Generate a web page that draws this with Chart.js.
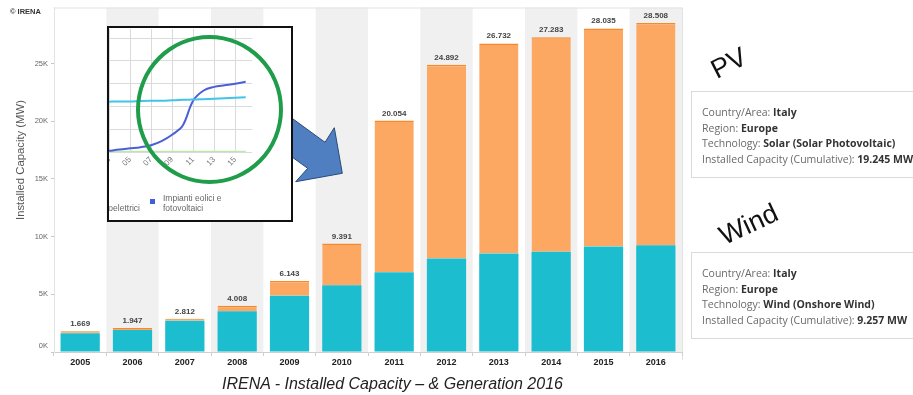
<!DOCTYPE html>
<html>
<head>
<meta charset="utf-8">
<script src="https://cdn.jsdelivr.net/npm/chart.js@4.4.1/dist/chart.umd.min.js"></script>
<style>
  body { margin: 0; background: #fff; }
  #stage { position: relative; width: 913px; height: 395px; overflow: hidden; font-family: Arial, "Liberation Sans", sans-serif; }
  #grafico { position: absolute; left: 0; top: 0; }
  .copy { position: absolute; left: 10px; top: 7px; font-size: 7.5px; font-weight: bold; color: #333; }
  .titolo-y { position: absolute; left: -50px; top: 153px; width: 140px; text-align: center; font-size: 11.3px; line-height: 14px; color: #555; transform: rotate(-90deg); }
  .didascalia { position: absolute; left: 222px; top: 375px; font-size: 16px; font-style: italic; color: #222; white-space: nowrap; }
  #freccia { position: absolute; left: 0; top: 0; }
  #inserto { position: absolute; left: 107px; top: 26px; width: 186px; height: 196px; box-sizing: border-box; border: 2px solid #111; background: #fff; overflow: hidden; }
  #grafico-inserto { position: absolute; left: -20px; top: 0; }
  .leg-quad { position: absolute; left: 41px; top: 171px; width: 5px; height: 5px; background: #3f5fdc; }
  .leg-testo { position: absolute; font-size: 8.5px; line-height: 10px; color: #666; white-space: nowrap; }
  .cerchio { position: absolute; left: 136px; top: 35px; width: 147px; height: 149px; box-sizing: border-box; border: 4px solid #1f9d4b; border-radius: 50%; }
  .nota { position: absolute; font-size: 27px; line-height: 27px; color: #111; white-space: nowrap; }
  .scheda { position: absolute; left: 691px; width: 240px; height: 87px; box-sizing: border-box; border: 1px solid #dadada; padding: 13px 0 0 10px; font-family: "Open Sans", "Noto Sans", sans-serif; font-size: 10.5px; line-height: 15.6px; color: #6a6a6a; white-space: nowrap; }
  .scheda b { color: #333; }
</style>
</head>
<body>
<div id="stage">
  <canvas id="grafico" width="913" height="395"></canvas>
  <div class="copy">© IRENA</div>
  <div class="titolo-y">Installed Capacity (MW)</div>
  <div class="didascalia">IRENA - Installed Capacity – &amp; Generation 2016</div>

  <svg id="freccia" width="913" height="395">
    <polygon points="290,116.8 325,142.3 334.3,127.7 342.3,173.3 295.7,181.7 307.7,168.3 290,155.6"
             fill="#4f7fc0" stroke="#284a7a" stroke-width="1" />
  </svg>

  <div id="inserto">
    <canvas id="grafico-inserto" width="202" height="144"></canvas>
    <div class="leg-testo" style="right:151px; top:175px;">idroelettrici</div>
    <div class="leg-quad"></div>
    <div class="leg-testo" style="left:54px; top:165px;">Impianti eolici e<br>fotovoltaici</div>
  </div>
  <div class="cerchio"></div>

  <div class="nota" style="left:711px; top:50px; transform: rotate(-27deg);">PV</div>
  <div class="nota" style="left:718px; top:211px; transform: rotate(-25deg);">Wind</div>

  <div class="scheda" style="top:91px;">
    Country/Area: <b>Italy</b><br>
    Region: <b>Europe</b><br>
    Technology: <b>Solar (Solar Photovoltaic)</b><br>
    Installed Capacity (Cumulative): <b>19.245 MW</b>
  </div>
  <div class="scheda" style="top:252px;">
    Country/Area: <b>Italy</b><br>
    Region: <b>Europe</b><br>
    Technology: <b>Wind (Onshore Wind)</b><br>
    Installed Capacity (Cumulative): <b>9.257 MW</b>
  </div>
</div>

<script>
// Potenza installata cumulativa in Italia (MW)
const anni = ['2005', '2006', '2007', '2008', '2009', '2010', '2011', '2012', '2013', '2014', '2015', '2016'];
const eolico = [1635, 1902, 2702, 3525, 4879, 5794, 6918, 8102, 8542, 8683, 9137, 9257];
const fotovoltaico = [34, 45, 110, 483, 1264, 3597, 13136, 16790, 18190, 18600, 18898, 19251];
const tickAsseY = [0, 5000, 10000, 15000, 20000, 25000];

// Grafico piccolo nel riquadro (produzione)
const anniInserto = [2003, 2004, 2005, 2006, 2007, 2008, 2009, 2010, 2011, 2012, 2013, 2014, 2015, 2016];
const eolicoFotovoltaicoInserto = [0.5, 1.1, 1.6, 2.1, 3.0, 4.8, 7.6, 11.5, 22.5, 27.0, 28.6, 29.3, 30.0, 30.8];
const idroelettricoInserto = [22.1, 22.2, 22.2, 22.4, 22.5, 22.5, 22.7, 22.9, 23.0, 23.2, 23.4, 23.6, 23.8, 24.0];
const geotermicoInserto = [0.2, 0.2, 0.2, 0.2, 0.2, 0.2, 0.2, 0.2, 0.2, 0.2, 0.2, 0.2, 0.2, 0.2];
const tickInsertoX = [2003, 2005, 2007, 2009, 2011, 2013, 2015];
const tickInsertoY = [0, 10, 20, 30, 40, 50];

const FONT = 'Arial, "Liberation Sans", sans-serif';

// bande grigie alterne e cornice dell'area del grafico
const bandePlugin = {
  id: 'bande',
  beforeDraw(chart) {
    const { ctx, chartArea, scales: { x } } = chart;
    const w = chartArea.width / anni.length;
    ctx.save();
    ctx.fillStyle = '#f0f0f0';
    anni.forEach((a, i) => {
      if (i % 2 === 1) ctx.fillRect(x.getPixelForValue(i) - w / 2, chartArea.top, w, chartArea.height);
    });
    ctx.strokeStyle = '#e2e2e2';
    ctx.lineWidth = 1;
    ctx.beginPath();
    ctx.moveTo(chartArea.left, chartArea.top + 0.5);
    ctx.lineTo(chartArea.right, chartArea.top + 0.5);
    ctx.moveTo(chartArea.right + 0.5, chartArea.top);
    ctx.lineTo(chartArea.right + 0.5, chartArea.bottom + 8);
    ctx.stroke();
    ctx.restore();
  }
};

// totali sopra le colonne
const etichettePlugin = {
  id: 'etichette',
  afterDatasetsDraw(chart) {
    const { ctx } = chart;
    const meta = chart.getDatasetMeta(1);
    ctx.save();
    ctx.font = 'bold 8px ' + FONT;
    ctx.fillStyle = '#444';
    ctx.textAlign = 'center';
    ctx.textBaseline = 'alphabetic';
    meta.data.forEach((bar, i) => {
      const totale = eolico[i] + fotovoltaico[i];
      ctx.fillText((totale / 1000).toFixed(3), bar.x, bar.y - 5);
    });
    // etichetta dello zero un po' sollevata
    const y = chart.scales.y;
    ctx.font = '7.5px ' + FONT;
    ctx.fillStyle = '#666';
    ctx.textAlign = 'right';
    ctx.textBaseline = 'middle';
    ctx.fillText('0K', y.right - 6, y.getPixelForValue(0) - 6);
    ctx.restore();
  }
};

new Chart(document.getElementById('grafico'), {
  type: 'bar',
  data: {
    labels: anni,
    datasets: [
      {
        label: 'Wind (Onshore Wind)',
        data: eolico,
        backgroundColor: '#1bbdcf',
        borderWidth: 0,
        barPercentage: 0.75,
        categoryPercentage: 1
      },
      {
        label: 'Solar (Solar Photovoltaic)',
        data: fotovoltaico,
        backgroundColor: '#fda862',
        borderColor: '#f7892a',
        borderWidth: { top: 1.5, left: 0, right: 0, bottom: 0 },
        borderSkipped: 'start',
        minBarLength: 2,
        barPercentage: 0.75,
        categoryPercentage: 1
      }
    ]
  },
  options: {
    responsive: false,
    animation: false,
    devicePixelRatio: 1,
    layout: { padding: { left: 0, right: 231, top: 6, bottom: 23 } },
    plugins: {
      legend: { display: false },
      tooltip: { enabled: false }
    },
    scales: {
      x: {
        stacked: true,
        grid: { drawOnChartArea: false, tickLength: 4, color: '#cfcfcf' },
        border: { color: '#cfcfcf' },
        ticks: { font: { family: FONT, size: 9, weight: 'bold' }, color: '#222', padding: 1, maxRotation: 0 },
        afterFit: (s) => { s.height = 20; }
      },
      y: {
        stacked: true,
        min: 0,
        max: 29850,
        grid: { drawOnChartArea: false, tickLength: 3, color: '#c8c8c8' },
        border: { color: '#e2e2e2' },
        ticks: {
          font: { family: FONT, size: 7.5 },
          color: '#666',
          padding: 3,
          callback: (v) => v === 0 ? '' : (v / 1000) + 'K'
        },
        afterBuildTicks: (s) => { s.ticks = tickAsseY.map(v => ({ value: v })); },
        afterFit: (s) => { s.width = 54; }
      }
    }
  },
  plugins: [bandePlugin, etichettePlugin]
});

const punti = (valori) => anniInserto.map((a, i) => ({ x: a, y: valori[i] }));

new Chart(document.getElementById('grafico-inserto'), {
  type: 'line',
  data: {
    datasets: [
      { label: 'Impianti idroelettrici', data: punti(idroelettricoInserto), borderColor: '#41c3ea', borderWidth: 2, pointRadius: 0, tension: 0.3 },
      { label: 'Impianti eolici e fotovoltaici', data: punti(eolicoFotovoltaicoInserto), borderColor: '#4b5fd6', borderWidth: 2, pointRadius: 0, tension: 0.35 },
      { label: 'Impianti geotermici', data: punti(geotermicoInserto), borderColor: '#bfe6ad', borderWidth: 1.5, pointRadius: 0 }
    ]
  },
  options: {
    responsive: false,
    animation: false,
    devicePixelRatio: 1,
    layout: { padding: { left: 20, right: 39, top: 1, bottom: 0 } },
    plugins: {
      legend: { display: false },
      tooltip: { enabled: false }
    },
    scales: {
      x: {
        type: 'linear',
        min: 2003,
        max: 2016.6,
        grid: { color: '#dadada', drawTicks: false },
        border: { display: false },
        ticks: {
          color: '#777',
          font: { family: FONT, size: 8 },
          minRotation: 45,
          maxRotation: 45,
          padding: 3,
          callback: (v) => String(v).slice(2)
        },
        afterBuildTicks: (s) => { s.ticks = tickInsertoX.map(v => ({ value: v })); },
        afterFit: (s) => { s.height = 20; }
      },
      y: {
        min: 0,
        max: 54,
        grid: { color: '#dadada', drawTicks: false },
        border: { display: false },
        ticks: { display: false },
        afterBuildTicks: (s) => { s.ticks = tickInsertoY.map(v => ({ value: v })); },
        afterFit: (s) => { s.width = 0; }
      }
    }
  }
});
</script>
</body>
</html>
